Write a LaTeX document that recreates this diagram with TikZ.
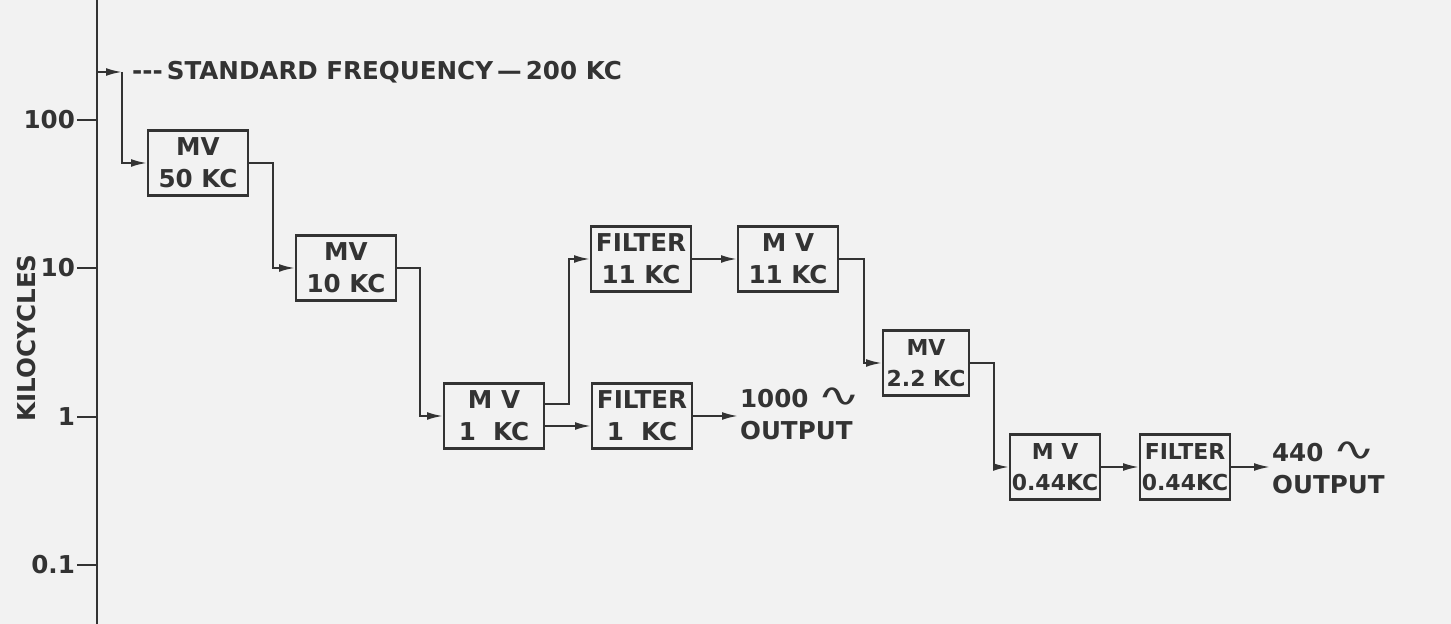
\documentclass[tikz,border=0pt]{standalone}
\usepackage{fontspec}
\setmainfont{DejaVu Sans}
\usetikzlibrary{arrows.meta,positioning}

\newcommand{\wave}{\raisebox{0.05em}{\scalebox{2.1}[1.3]{\mdseries ∿}}}

\tikzset{
  ink/.style={draw=black!80, line width=1.1pt},
  blk/.style={ink, line width=1.2pt, minimum width=2cm, minimum height=1.3cm,
    inner sep=1pt, align=center, text=black!80},
  slim/.style={blk, minimum width=1.72cm, font=\bfseries\fontsize{12.5}{18}\selectfont},
  sig/.style={ink, -{Latex[length=9pt,width=4.4pt]}},
  txt/.style={text=black!80, inner sep=1pt},
  every node/.style={font=\bfseries\fontsize{14}{18}\selectfont}
}

\begin{document}
\begin{tikzpicture}[x=0.02cm,y=-0.02cm]
\fill[black!5] (0,0) rectangle (1451,624);
\useasboundingbox (0,0) rectangle (1451,624);

% frequency scale
\draw[ink] (97,0) -- (97,624);
\foreach \y/\lab [count=\i] in {120/100,268/10,417/1,565/0.1}{
  \draw[ink] (77,\y) -- (97,\y);
  \node[txt, anchor=east] (tick\i) at (77,\y) {\lab};
}
\node[txt, rotate=90] (kc) at (27,338) {KILOCYCLES};

% standard input
\coordinate (src) at (97,72);
\coordinate (std) at (122,72);
\node[txt, anchor=west] (stdlab) at (130,72) {-{}-{}-\,STANDARD FREQUENCY\,—\,200 KC};

% dividers and filters
\node[blk]  (mv50)  at (198,163)  {MV\\50 KC};
\node[blk]  (mv10)  at (346,268)  {MV\\10 KC};
\node[blk]  (mv1)   at (494,416)  {M V\\1\ \ KC};
\node[blk]  (f11)   at (641,259)  {FILTER\\11 KC};
\node[blk]  (mv11)  at (788,259)  {M V\\11 KC};
\node[blk]  (f1)    at (642,416)  {FILTER\\1\ \ KC};
\node[slim] (mv22)  at (926,363)  {MV\\2.2 KC};
\node[slim] (mv044) at (1055,467) {M V\\0.44KC};
\node[slim] (f044)  at (1185,467) {FILTER\\0.44KC};

% outputs
\node[txt, align=left, anchor=west] (out1) at (738,414) {1000 \wave\\OUTPUT};
\node[txt, align=left, anchor=west] (out2) at (1270,468) {440 \wave\\OUTPUT};

% signal path
\draw[sig] (src) -- (std);
\draw[sig] (std) |- (mv50.west);
\draw[sig] (mv50.east) -- ++(24,0) |- (mv10.west);
\draw[sig] (mv10.east) -- ++(23,0) |- (mv1.west);
\draw[sig] ([yshift=0.24cm]mv1.east) -- ++(24,0) |- (f11.west);
\draw[sig] ([yshift=-0.2cm]mv1.east) -- ([yshift=-0.2cm]f1.west);
\draw[sig] (f11.east) -- (mv11.west);
\draw[sig] (f1.east) -- (f1.east -| out1.west);
\draw[sig] (mv11.east) -- ++(25,0) |- (mv22.west);
\draw[sig] (mv22.east) -- ++(24,0) |- (mv044.west);
\draw[sig] (mv044.east) -- (f044.west);
\draw[sig] (f044.east) -- (f044.east -| out2.west);
\end{tikzpicture}
\end{document}
